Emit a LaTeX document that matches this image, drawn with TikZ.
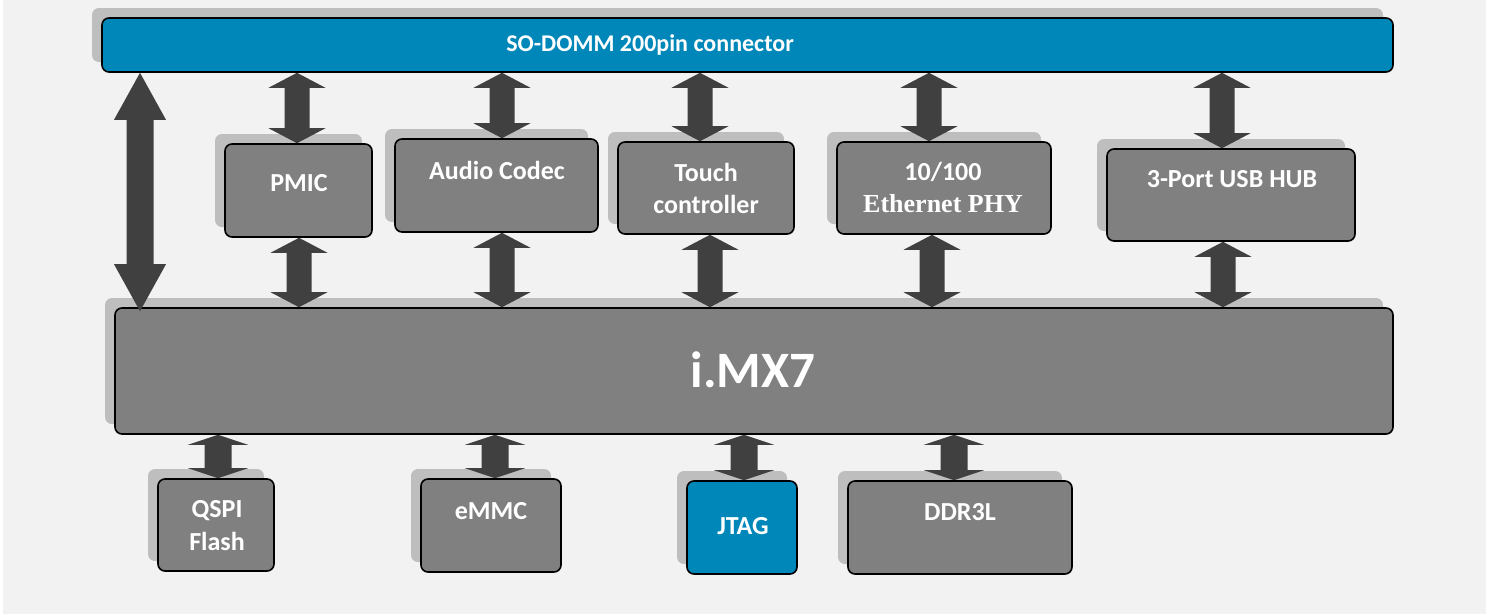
\documentclass[tikz,border=0pt]{standalone}
\usepackage{fontspec}
\setmainfont{Carlito}
\newfontfamily\serifb{Liberation Serif}
\usetikzlibrary{calc}
\definecolor{bgc}{HTML}{F2F2F2}
\definecolor{boxc}{HTML}{808080}
\definecolor{shc}{HTML}{BEBEBE}
\definecolor{arrc}{HTML}{404040}
\definecolor{bluec}{HTML}{0087B9}
\tikzset{
  box/.style={draw=black, line width=1.6pt, rounded corners=7pt, fill=boxc, inner sep=0pt,
    preaction={fill=shc, draw=none, transform canvas={shift={(-10pt,10pt)}}}},
  bluebox/.style={box, fill=bluec},
  lbl/.style={text=white, font=\bfseries\fontsize{26}{32}\selectfont, align=center, inner sep=0pt},
}
% vertical double arrow between two named points: top, bottom, x, shaft width, head width, head length
\newcommand{\dblarr}[6]{%
  \fill[arrc] let \p1=(#1), \p2=(#2) in
    (#3pt,\y1) -- (#3pt+#5pt/2,\y1-#6pt) -- (#3pt+#4pt/2,\y1-#6pt) -- (#3pt+#4pt/2,\y2+#6pt)
    -- (#3pt+#5pt/2,\y2+#6pt) -- (#3pt,\y2) -- (#3pt-#5pt/2,\y2+#6pt) -- (#3pt-#4pt/2,\y2+#6pt)
    -- (#3pt-#4pt/2,\y1-#6pt) -- (#3pt-#5pt/2,\y1-#6pt) -- cycle;}
\begin{document}
\begin{tikzpicture}[x=1pt,y=-1pt]
\useasboundingbox (0,0) rectangle (1491,614);
\fill[white] (0,0) rectangle (1491,614);
\fill[bgc] (3,0) rectangle (1486,614);

% connector bar
\node[bluebox, minimum width=1291pt, minimum height=54pt] (sodimm) at (747.5,45) {};
\node[lbl, font=\bfseries\fontsize{24}{28}\selectfont] (sodimmt) at (650,45) {SO-DOMM 200pin connector};

% upper blocks
\node[box, minimum width=147pt, minimum height=93pt] (pmic) at (298.5,190.5) {};
\node[box, minimum width=203pt, minimum height=93pt] (audio) at (496.5,185.5) {};
\node[box, minimum width=176pt, minimum height=92pt] (touch) at (706,188) {};
\node[box, minimum width=214pt, minimum height=92pt] (eth) at (944,188) {};
\node[box, minimum width=248pt, minimum height=92pt] (usb) at (1231,195) {};

% processor
\node[box, minimum width=1278pt, minimum height=126pt] (imx) at (754,371) {};

% lower blocks
\node[box, minimum width=116pt, minimum height=92pt] (qspi) at (216,525) {};
\node[box, minimum width=140pt, minimum height=93pt] (emmc) at (491,525.5) {};
\node[bluebox, minimum width=110pt, minimum height=93pt] (jtag) at (742,527.5) {};
\node[box, minimum width=224pt, minimum height=93pt] (ddr) at (960,527.5) {};

% labels
\node[lbl] (pmict) at (299,183) {PMIC};
\node[lbl] (audiot) at (497,170) {Audio Codec};
\node[lbl] (toucht) at (706,188) {Touch\\controller};
\node[lbl] (etht1) at (943,172) {10/100};
\node[lbl, font=\serifb\bfseries\fontsize{26}{32}\selectfont] (etht2) at (943,204) {Ethernet PHY};
\node[lbl] (usbt) at (1232,179) {3-Port USB HUB};
\node[lbl, font=\bfseries\fontsize{51}{60}\selectfont] (imxt) at (753,370) {i.MX7};
\node[lbl, font=\bfseries\fontsize{26}{33}\selectfont] (qspit) at (217,525.5) {QSPI\\Flash};
\node[lbl] (emmct) at (491,511) {eMMC};
\node[lbl] (jtagt) at (743,526) {JTAG};
\node[lbl] (ddrt) at (960,512) {DDR3L};

% big side arrow
\dblarr{sodimm.south}{[yshift=-4pt]imx.north}{140}{27}{52}{47}

% top row
\dblarr{sodimm.south}{pmic.north}{297}{25}{57}{15}
\dblarr{sodimm.south}{audio.north}{502}{25}{57}{15}
\dblarr{sodimm.south}{touch.north}{700}{25}{57}{15}
\dblarr{sodimm.south}{eth.north}{929}{25}{57}{15}
\dblarr{sodimm.south}{usb.north}{1222}{25}{57}{15}

% middle row
\dblarr{pmic.south}{imx.north}{299}{25}{57}{15}
\dblarr{audio.south}{imx.north}{502}{25}{57}{15}
\dblarr{touch.south}{imx.north}{710}{25}{57}{15}
\dblarr{eth.south}{imx.north}{932}{25}{57}{15}
\dblarr{usb.south}{imx.north}{1223}{25}{57}{15}

% bottom row
\dblarr{imx.south}{qspi.north}{218}{27}{60}{10}
\dblarr{imx.south}{emmc.north}{495}{27}{60}{10}
\dblarr{imx.south}{jtag.north}{744}{27}{60}{10}
\dblarr{imx.south}{ddr.north}{954}{27}{60}{10}
\end{tikzpicture}
\end{document}
